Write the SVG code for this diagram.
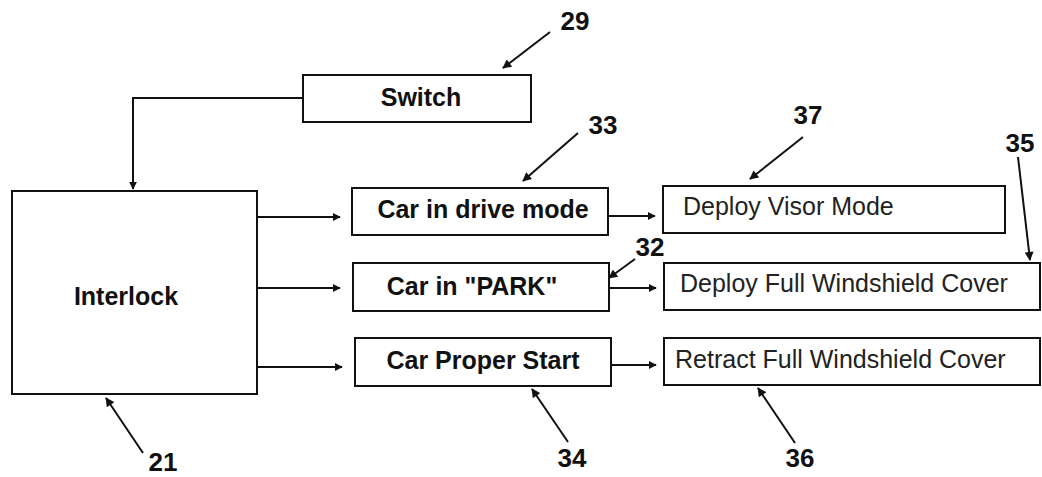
<svg xmlns="http://www.w3.org/2000/svg" width="1042" height="477" viewBox="0 0 1042 477">
<style>
.box{fill:#fff;stroke:#111;stroke-width:2}
.bt{font-family:"Liberation Sans",Arial,sans-serif;font-weight:bold;font-size:25px;fill:#111}
.rt{font-family:"Liberation Sans",Arial,sans-serif;font-size:25px;fill:#222}
.num{font-family:"Liberation Sans",Arial,sans-serif;font-weight:bold;font-size:26px;fill:#111;text-anchor:middle}
.ln{fill:none;stroke:#111;stroke-width:2}
.ld{fill:none;stroke:#111;stroke-width:2}
</style>
<defs>
<marker id="ah" viewBox="0 0 10 10" refX="9" refY="5" markerWidth="4" markerHeight="4" orient="auto" markerUnits="strokeWidth">
<path d="M0,0 L10,5 L0,10 z" fill="#111"/>
</marker>
<marker id="lh" viewBox="0 0 10 10" refX="9" refY="5" markerWidth="5" markerHeight="4.5" orient="auto" markerUnits="strokeWidth">
<path d="M0,0 L10,5 L0,10 z" fill="#111"/>
</marker>
</defs>
<rect width="1042" height="477" fill="#fff"/>
<g id="connectors">
<path class="ln" d="M303,98 H133 V189" marker-end="url(#ah)"/>
<path class="ln" d="M257,217 H340" marker-end="url(#ah)"/>
<path class="ln" d="M257,288 H340" marker-end="url(#ah)"/>
<path class="ln" d="M257,367 H342" marker-end="url(#ah)"/>
<path class="ln" d="M608,216 H655" marker-end="url(#ah)"/>
<path class="ln" d="M609,288 H656" marker-end="url(#ah)"/>
<path class="ln" d="M611,365 H656" marker-end="url(#ah)"/>
</g>
<g id="leaders">
<path class="ld" d="M550,32 L503,68" marker-end="url(#lh)"/>
<path class="ld" d="M578,133 L523,181" marker-end="url(#lh)"/>
<path class="ld" d="M803,137 L750,179" marker-end="url(#lh)"/>
<path class="ld" d="M1018,157 L1030,260" marker-end="url(#lh)"/>
<path class="ld" d="M635,259 L609,278" marker-end="url(#lh)"/>
<path class="ld" d="M568,442 L532,389" marker-end="url(#lh)"/>
<path class="ld" d="M795,443 L758,388" marker-end="url(#lh)"/>
<path class="ld" d="M143,453 L106,398" marker-end="url(#lh)"/>
</g>
<g id="switch">
<rect class="box" x="303" y="75" width="228" height="47"/>
<text class="bt" x="421" y="106" text-anchor="middle">Switch</text>
</g>
<g id="interlock">
<rect class="box" x="12" y="191" width="245" height="203"/>
<text class="bt" x="126" y="305" text-anchor="middle">Interlock</text>
</g>
<g id="drive">
<rect class="box" x="352" y="188" width="256" height="47"/>
<text class="bt" x="483" y="218" text-anchor="middle">Car in drive mode</text>
</g>
<g id="park">
<rect class="box" x="353" y="263" width="256" height="48"/>
<text class="bt" x="472" y="295" text-anchor="middle">Car in "PARK"</text>
</g>
<g id="start">
<rect class="box" x="355" y="338" width="256" height="48"/>
<text class="bt" x="483" y="369" text-anchor="middle">Car Proper Start</text>
</g>
<g id="visor">
<rect class="box" x="663" y="186" width="342" height="47"/>
<text class="rt" x="683" y="215">Deploy Visor Mode</text>
</g>
<g id="deployfull">
<rect class="box" x="664" y="263" width="376" height="47"/>
<text class="rt" x="680" y="292">Deploy Full Windshield Cover</text>
</g>
<g id="retract">
<rect class="box" x="664" y="338" width="376" height="47"/>
<text class="rt" x="675" y="368">Retract Full Windshield Cover</text>
</g>
<g id="labels">
<text class="num" x="575" y="30">29</text>
<text class="num" x="603" y="134">33</text>
<text class="num" x="808" y="124">37</text>
<text class="num" x="1020" y="152">35</text>
<text class="num" x="650" y="256">32</text>
<text class="num" x="572" y="467">34</text>
<text class="num" x="800" y="467">36</text>
<text class="num" x="163" y="471">21</text>
</g>
</svg>
